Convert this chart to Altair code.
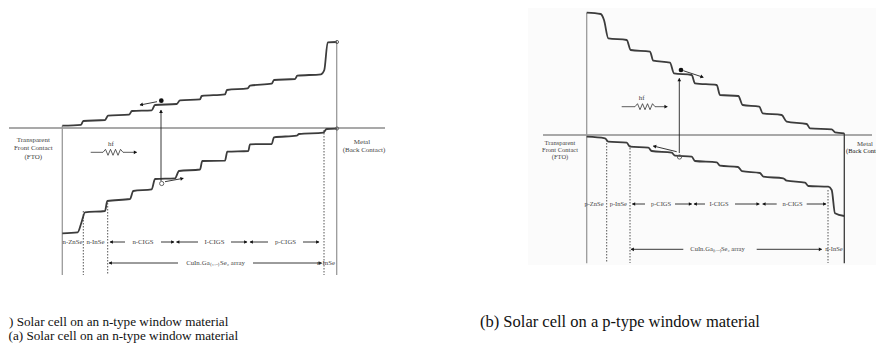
import math
import altair as alt
import pandas as pd

# ---------------- panel (a): solar cell on an n-type window ----------------
A_CB_X = [62.3, 81, 83.3, 105, 108, 129, 132, 151.7, 155, 176.7, 180, 200, 201.7, 225, 227, 247.7,
          250, 271.7, 274, 295, 297.3, 321, 324.3, 327.7, 336.7]
A_CB_Y = [125.7, 124.8, 121, 120, 115.7, 114.7, 111, 110.3, 105, 104, 100.3, 99.3, 96, 94.3, 90, 88.3,
          85.7, 83.7, 80, 79, 75.7, 74.3, 70, 42.3, 42]
A_VB_X = [62.3, 77.7, 81.7, 85, 105, 107.3, 130, 133.3, 151.7, 155, 175, 179, 200, 202.3, 225, 227.3,
          248.3, 250, 271.7, 274, 296.7, 299, 323.3, 326.7, 336.7]
A_VB_Y = [233.3, 232.3, 221.7, 212.3, 211, 201, 199, 191, 189.3, 179, 178.3, 171, 169.5, 161, 160.7, 151.7,
          151, 144.3, 144, 137.3, 135.7, 134, 132.7, 129, 128.7]

# ---------------- panel (b): solar cell on a p-type window ----------------
B_CB_X = [586.7, 600.7, 604, 608.3, 626.7, 630.7, 650, 653.3, 670, 674, 691.7, 695, 716.7, 720, 738.3,
          742.7, 759.3, 762.7, 781.7, 786.7, 806.7, 810, 831.7, 835, 844.3]
B_CB_Y = [12.7, 14, 20, 38.3, 40, 50, 51.7, 60.7, 62.7, 73.3, 75, 83.3, 85, 95, 96,
          105, 106.7, 113.3, 115, 121.7, 124, 128.3, 129.3, 132.3, 133.3]
B_VB_X = [586.7, 605, 608.3, 626.7, 630, 648.3, 651.7, 671.7, 675, 691.7, 695, 716.7, 720, 738, 742,
          760, 763.3, 783.3, 786.7, 805, 808.3, 828.3, 831.7, 835, 844.3]
B_VB_Y = [136.7, 138.3, 141.7, 142.7, 146.7, 147.7, 151, 152.7, 155.7, 156.7, 161, 162.3, 165.7, 167, 171.2,
          173, 176.7, 178.3, 180.7, 182.7, 186, 186.7, 190, 213.3, 216]

# photon (wavy) arrows
A_PH_X = [90.7, 103, 105.5, 108, 110.5, 113, 115.5, 118, 120.5, 123, 136.7]
A_PH_Y = [152.3, 152.3, 149.3, 155.3, 149.3, 155.3, 149.3, 155.3, 149.3, 152.3, 152.3]
B_PH_X = [621.7, 635, 637.5, 640, 642.5, 645, 647.5, 650, 652.5, 655, 667.3]
B_PH_Y = [106.7, 106.7, 103.7, 109.7, 103.7, 109.7, 103.7, 109.7, 103.7, 106.7, 106.7]

# contact / Fermi lines: x1, y1, x2, y2, colour
CONTACT_X1 = [9, 62.3, 336.7, 543, 586.7, 844.3]
CONTACT_Y1 = [128, 125.7, 42, 135, 12.7, 133.3]
CONTACT_X2 = [385, 62.3, 336.7, 872, 586.7, 844.3]
CONTACT_Y2 = [128, 275, 275, 135, 263.3, 263.3]
CONTACT_C = ["#8c8c8c", "#9a9a9a", "#9a9a9a", "#8c8c8c", "#9a9a9a", "#3a3a3a"]

# dotted layer boundaries
DOT_X = [83.3, 107.7, 324, 606.7, 630, 828]
DOT_Y1 = [211, 200, 130, 140, 145, 190]
DOT_Y2 = [275, 275, 275, 263, 263, 263]

# arrows: tail (x1,y1) -> tip (x2,y2), arrowhead at tip
ARR_X1 = [125, 161, 198, 231, 268, 303, 178, 253,
          645, 675, 705, 735, 776.7, 806.7, 683.3, 756.7,
          161, 157, 165, 679.3, 683.3, 676.7]
ARR_Y1 = [242, 242, 242, 242, 242, 242, 263, 263,
          204, 204, 204, 204, 204, 204, 249.3, 249.3,
          181, 101.7, 181.7, 153, 70.7, 151.7]
ARR_X2 = [110, 174, 176.5, 247, 250, 319, 109, 321.5,
          632.3, 691.7, 694, 759.3, 762.7, 826, 631, 821.7,
          161, 140, 183.3, 679.3, 703.3, 653.3]
ARR_Y2 = [242, 242, 242, 242, 242, 242, 263, 263,
          204, 204, 204, 204, 204, 204, 249.3, 249.3,
          110, 105, 178.3, 78.3, 77.3, 146]

# carriers: electron (filled) / hole and contact points (open)
CAR_X = [161.3, 161.7, 337, 337, 681, 679.5]
CAR_Y = [100.7, 183.5, 42, 128.5, 70, 157]
CAR_FILLED = [True, False, False, False, True, False]
CAR_SIZE = [22, 18, 10, 10, 22, 18]

# diagram labels (centred)
LAB_TEXT = ["Transparent", "Front Contact", "(FTO)", "Metal", "(Back Contact)", "hf",
            "n-ZnSe", "n-InSe", "n-CIGS", "I-CIGS", "p-CIGS", "CuInₓGa₍₁₋ₓ₎Se₂ array", "n-InSe",
            "Transparent", "Front Contact", "(FTO)", "Metal", "hf",
            "p-ZnSe", "p-InSe", "p-CIGS", "I-CIGS", "n-CIGS", "CuInₓGa₍₁₋ₓ₎Se₂ array", "n-InSe"]
LAB_X = [33.3, 33.3, 33.3, 362, 364, 111,
         72.5, 95.5, 143, 214.5, 285.5, 215.5, 326,
         560, 560, 560, 865, 641.7,
         594, 618.3, 661, 719, 792.5, 717.5, 834]
LAB_Y = [140, 148.3, 156.7, 141.7, 150, 144,
         242, 242, 242, 242, 242, 263, 263,
         143, 150, 157, 143.5, 98.3,
         204, 204, 204, 204, 204, 249.3, 249.3]
LAB_SIZE = [7, 7, 7, 7, 7, 7,
            6.8, 6.8, 6.8, 6.8, 6.8, 6.8, 6.8,
            6.5, 6.5, 6.5, 6.8, 7,
            6.5, 6.5, 6.5, 6.5, 6.5, 6.5, 6.5]

# left-aligned texts
LT_TEXT = ["(Back Contact)", ") Solar cell on an n-type window material",
           "(a)  Solar cell on an n-type window material", "(b)  Solar cell on a p-type window material"]
LT_X = [846, 9, 8.5, 480]
LT_Y = [150.7, 321.5, 335.5, 322]
LT_SIZE = [6.5, 13.2, 13.2, 16.5]

# ---------------------------------------------------------------------------
XS = alt.Scale(domain=[8, 876], nice=False, zero=False)
YS = alt.Scale(domain=[8, 346], nice=False, zero=False, reverse=True)


def ex(f):
    return alt.X(f, type="quantitative", scale=XS, axis=None)


def ey(f):
    return alt.Y(f, type="quantitative", scale=YS, axis=None)


bands = []
for name, xs, ys in [("aCB", A_CB_X, A_CB_Y), ("aVB", A_VB_X, A_VB_Y),
                     ("bCB", B_CB_X, B_CB_Y), ("bVB", B_VB_X, B_VB_Y)]:
    for i, (x, y) in enumerate(zip(xs, ys)):
        bands.append({"x": x, "y": y, "curve": name, "i": i})
bands = pd.DataFrame(bands)

photons = []
for name, xs, ys in [("a", A_PH_X, A_PH_Y), ("b", B_PH_X, B_PH_Y)]:
    for i, (x, y) in enumerate(zip(xs, ys)):
        photons.append({"x": x, "y": y, "p": name, "i": i})
photons = pd.DataFrame(photons)

contacts = pd.DataFrame({"x": CONTACT_X1, "y": CONTACT_Y1, "x2": CONTACT_X2, "y2": CONTACT_Y2, "c": CONTACT_C})
dots = pd.DataFrame({"x": DOT_X, "y": DOT_Y1, "y2": DOT_Y2})
arrows = pd.DataFrame({"x": ARR_X1, "y": ARR_Y1, "x2": ARR_X2, "y2": ARR_Y2})

heads = []
for x1, y1, x2, y2 in zip(ARR_X1, ARR_Y1, ARR_X2, ARR_Y2):
    dx, dy = x2 - x1, y2 - y1
    L = math.hypot(dx, dy)
    ang = math.degrees(math.atan2(dx, -dy)) % 360
    heads.append({"x": x2 - dx / L * 1.8, "y": y2 - dy / L * 1.8, "ang": ang})
for xs, ys in [(A_PH_X, A_PH_Y), (B_PH_X, B_PH_Y)]:
    heads.append({"x": xs[-1] - 1.8, "y": ys[-1], "ang": 90})
heads = pd.DataFrame(heads)

carriers = pd.DataFrame({"x": CAR_X, "y": CAR_Y, "filled": CAR_FILLED, "s": CAR_SIZE})
labels = pd.DataFrame({"x": LAB_X, "y": LAB_Y, "t": LAB_TEXT, "s": LAB_SIZE})
ltexts = pd.DataFrame({"x": LT_X, "y": LT_Y, "t": LT_TEXT, "s": LT_SIZE})

bg = alt.Chart(pd.DataFrame({"x": [528], "y": [8], "x2": [876], "y2": [265]})).mark_rect(
    color="#fbfbfb").encode(x=ex("x"), y=ey("y"), x2="x2", y2="y2")

contact_layer = alt.Chart(contacts).mark_rule(strokeWidth=1.3).encode(
    x=ex("x"), y=ey("y"), x2="x2", y2="y2", color=alt.Color("c:N", scale=None))

dot_layer = alt.Chart(dots).mark_rule(strokeWidth=1, strokeDash=[1.5, 1.5], color="#555").encode(
    x=ex("x"), y=ey("y"), y2="y2")

band_layer = alt.Chart(bands).mark_line(interpolate="monotone", strokeWidth=1.8, color="#3c3c3c").encode(
    x=ex("x"), y=ey("y"), detail="curve:N", order="i:Q")

photon_layer = alt.Chart(photons).mark_line(strokeWidth=0.8, color="#333").encode(
    x=ex("x"), y=ey("y"), detail="p:N", order="i:Q")

arrow_layer = alt.Chart(arrows).mark_rule(strokeWidth=0.9, color="#222").encode(
    x=ex("x"), y=ey("y"), x2="x2", y2="y2")

head_layer = alt.Chart(heads).mark_point(shape="triangle", filled=True, size=14, color="#111", opacity=1).encode(
    x=ex("x"), y=ey("y"), angle=alt.Angle("ang:Q", scale=None))

filled_c = alt.Chart(carriers[carriers["filled"]]).mark_point(shape="circle", filled=True, color="#111", opacity=1).encode(
    x=ex("x"), y=ey("y"), size=alt.Size("s:Q", scale=None))
open_c = alt.Chart(carriers[~carriers["filled"]]).mark_point(shape="circle", filled=False, color="#555", strokeWidth=0.9, opacity=1).encode(
    x=ex("x"), y=ey("y"), size=alt.Size("s:Q", scale=None))

label_layer = alt.Chart(labels).mark_text(font="Liberation Serif", color="#444",
                                          align="center", baseline="middle").encode(
    x=ex("x"), y=ey("y"), text="t:N", size=alt.Size("s:Q", scale=None))

ltext_layer = alt.Chart(ltexts).mark_text(font="Liberation Serif", color="#111",
                                          align="left", baseline="middle").encode(
    x=ex("x"), y=ey("y"), text="t:N", size=alt.Size("s:Q", scale=None))

chart = alt.layer(bg, contact_layer, dot_layer, band_layer, photon_layer, arrow_layer, head_layer,
                  filled_c, open_c, label_layer, ltext_layer).properties(
    width=868, height=338, padding=0,
    autosize=alt.AutoSizeParams(type="none"),
    background="white",
).configure_view(strokeWidth=0)

chart.save("out.html", embed_options={"renderer": "svg", "actions": False})
